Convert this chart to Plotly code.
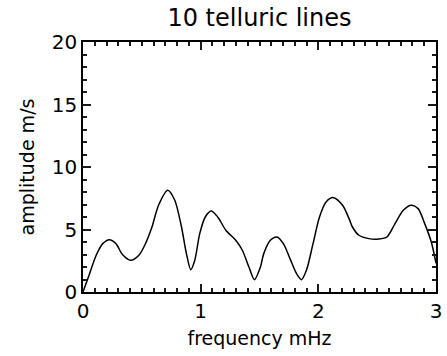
import plotly.graph_objects as go

freq = [0.0, 0.056, 0.112, 0.168, 0.224, 0.28, 0.335, 0.405, 0.475, 0.531, 0.586, 0.642,
        0.72, 0.78, 0.837, 0.879, 0.916, 0.95, 0.992, 1.039, 1.089, 1.145, 1.214, 1.298,
        1.354, 1.41, 1.457, 1.508, 1.536, 1.592, 1.648, 1.703, 1.759, 1.815, 1.857, 1.899,
        1.955, 2.01, 2.066, 2.127, 2.206, 2.261, 2.29, 2.345, 2.429, 2.513, 2.583, 2.652,
        2.722, 2.792, 2.848, 2.904, 2.96, 3.0]
amp = [0.0, 1.47, 2.94, 3.87, 4.19, 3.87, 3.0, 2.54, 2.94, 3.87, 5.2, 6.94,
       8.14, 7.34, 5.2, 3.07, 1.79, 2.54, 4.67, 6.0, 6.48, 6.0, 4.94, 4.14,
       3.34, 2.0, 0.99, 2.0, 3.07, 4.14, 4.4, 3.87, 2.67, 1.47, 0.99, 1.74,
       3.87, 6.0, 7.2, 7.55, 6.94, 5.87, 5.2, 4.54, 4.27, 4.24, 4.4, 5.47,
       6.54, 6.94, 6.67, 5.47, 4.0, 2.3]

title_text = "10 telluric lines"
x_title = "frequency mHz"
y_title = "amplitude m/s"
x_ticks = [0, 1, 2, 3]
y_ticks = [0, 5, 10, 15, 20]
x_minor_step = 0.1
y_minor_step = 1

font_family = "DejaVu Sans"
tick_col = "#1a1a1a"

fig = go.Figure()
fig.add_trace(go.Scatter(x=freq, y=amp, mode="lines",
                         line=dict(color="black", width=1.5, shape="spline", smoothing=0.8),
                         showlegend=False, hoverinfo="skip"))

axis_common = dict(showgrid=False, zeroline=False, showline=True, linecolor="black",
                   linewidth=1.5, mirror="ticks", ticks="inside", tickcolor=tick_col,
                   ticklen=8, tickwidth=1.5,
                   tickfont=dict(family=font_family, size=20, color="black"))

fig.update_xaxes(range=[x_ticks[0], x_ticks[-1]], tickmode="linear", tick0=x_ticks[0],
                 dtick=x_ticks[1] - x_ticks[0],
                 minor=dict(dtick=x_minor_step, ticks="inside", ticklen=4,
                            tickcolor=tick_col, tickwidth=1.5),
                 title=dict(text=x_title, font=dict(family=font_family, size=19, color="black"),
                            standoff=10),
                 **axis_common)
fig.update_yaxes(range=[y_ticks[0], y_ticks[-1]], tickmode="linear", tick0=y_ticks[0],
                 dtick=y_ticks[1] - y_ticks[0],
                 minor=dict(dtick=y_minor_step, ticks="inside", ticklen=4,
                            tickcolor=tick_col, tickwidth=1.5),
                 title=dict(text=y_title, font=dict(family=font_family, size=19, color="black"),
                            standoff=12),
                 **axis_common)

fig.update_layout(
    width=447, height=356,
    margin=dict(l=83, r=5, t=42, b=64),
    paper_bgcolor="white", plot_bgcolor="white",
    title=dict(text=title_text, xref="paper", x=0.5, xanchor="center",
               yref="container", y=0.95, yanchor="middle",
               font=dict(family=font_family, size=24, color="black")),
)

fig.write_html("out.html")
